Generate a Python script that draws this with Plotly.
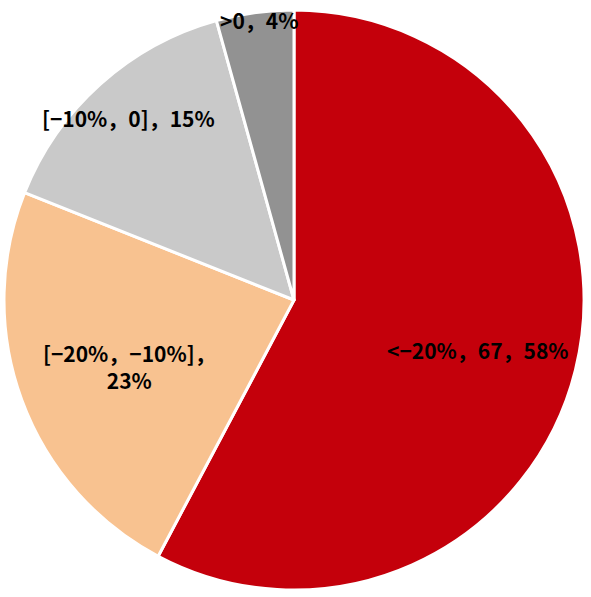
import plotly.graph_objects as go

categories = ["<−20%", "[−20%，−10%]", "[−10%，0]", ">0"]
counts = [67, 27, 17, 5]
label_texts = ["<−20%，67，58%", "[−20%，−10%]，<br>23%", "[−10%，0]，15%", ">0，4%"]
colors = ["#C4000B", "#F8C290", "#C9C9C9", "#929292"]
label_pos = [(0.817, 0.414), (0.217, 0.386), (0.214, 0.814), (0.44, 0.983)]

fig = go.Figure(go.Pie(
    labels=categories,
    values=counts,
    sort=False,
    direction="clockwise",
    rotation=0,
    marker=dict(colors=colors, line=dict(color="white", width=3)),
    textinfo="none",
    hoverinfo="label+value+percent",
    showlegend=False,
))

for t, (x, y) in zip(label_texts, label_pos):
    fig.add_annotation(x=x, y=y, xref="paper", yref="paper", text=t,
                       showarrow=False, xanchor="center", yanchor="middle",
                       font=dict(family="'Noto Sans CJK SC', 'Noto Sans', sans-serif",
                                 size=21, color="black", weight="bold"))

fig.update_layout(
    width=591, height=597,
    margin=dict(l=4, r=7, t=10, b=7),
    paper_bgcolor="white", plot_bgcolor="white",
    font=dict(family="'Noto Sans CJK SC', sans-serif"),
)
fig.write_html("out.html", config={"displayModeBar": False},
               post_script="document.body.style.margin='0';")
